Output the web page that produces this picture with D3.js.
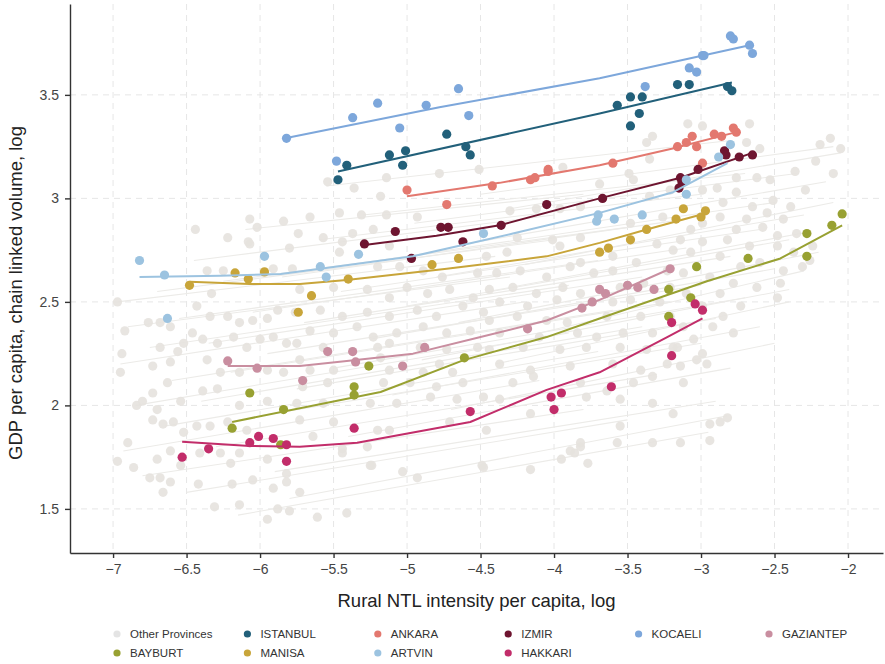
<!DOCTYPE html>
<html lang="en">
<head>
<meta charset="UTF-8">
<script src="https://cdn.jsdelivr.net/npm/d3@7"></script>
<title>NTL vs GDP per capita</title>
<style>
  body { margin: 0; background: #fff; }
  text { font-family: 'Liberation Sans', Arial, sans-serif; fill: #333; }
  .grid line { stroke: #e6e6e6; stroke-width: 1; stroke-dasharray: 6,5; }
  .axis path, .axis line { stroke: #333; stroke-width: 1.4; }
  .axis text { font-size: 14px; fill: #444; }
  .axis_title { font-size: 18.5px; fill: #222; }
  .legend_text { font-size: 11.5px; fill: #333; }
</style>
</head>
<body>
<div id="chart"></div>
<script>
// ---- data ----
var xTicks = [-7, -6.5, -6, -5.5, -5, -4.5, -4, -3.5, -3, -2.5, -2];
var yTicks = [1.5, 2, 2.5, 3, 3.5];

var provinceNames = ["ISTANBUL", "ANKARA", "IZMIR", "KOCAELI", "GAZIANTEP", "BAYBURT", "MANISA", "ARTVIN", "HAKKARI"];
var provinceColors = ["#22607a", "#e3786f", "#6e1530", "#7da7db", "#c98ea0", "#98a132", "#c8a53a", "#9cc3e0", "#c22d6a"];
var legendOrder = ["Other Provinces", "ISTANBUL", "ANKARA", "IZMIR", "KOCAELI", "GAZIANTEP", "BAYBURT", "MANISA", "ARTVIN", "HAKKARI"];

var istanbulPts = [[-5.47,3.09],[-5.41,3.16],[-5.12,3.21],[-5.03,3.16],[-5.01,3.23],[-4.73,3.31],[-4.60,3.25],[-4.57,3.21],
  [-3.57,3.45],[-3.48,3.35],[-3.48,3.49],[-3.42,3.41],[-3.40,3.49],[-3.16,3.55],[-3.08,3.55],[-2.82,3.54],[-2.79,3.52]];
var istanbulFit = [[-5.47,3.13],[-3.69,3.41],[-2.79,3.56]];

var ankaraPts = [[-5.00,3.04],[-4.73,2.97],[-4.42,3.06],[-4.16,3.09],[-4.13,3.10],[-4.04,3.14],[-4.04,3.13],[-3.60,3.17],
  [-3.16,3.25],[-3.10,3.27],[-3.06,3.30],[-3.03,3.25],[-2.91,3.31],[-2.86,3.30],[-2.78,3.34],[-2.76,3.32],[-2.99,3.17]];
var ankaraFit = [[-5.00,3.01],[-4.37,3.075],[-3.69,3.16],[-3.20,3.24],[-2.76,3.32]];

var izmirPts = [[-5.29,2.78],[-5.08,2.84],[-4.97,2.71],[-4.77,2.86],[-4.72,2.86],[-4.62,2.79],[-4.36,2.87],[-4.05,2.97],
  [-3.67,3.00],[-3.14,3.10],[-3.13,3.08],[-3.15,3.05],[-3.02,3.14],[-2.84,3.23],[-2.83,3.21],[-2.74,3.20],[-2.65,3.21]];
var izmirFit = [[-5.29,2.775],[-4.80,2.82],[-4.37,2.87],[-3.69,3.00],[-3.14,3.10],[-2.65,3.22]];

var kocaeliPts = [[-5.82,3.29],[-5.37,3.39],[-5.20,3.46],[-5.05,3.34],[-4.87,3.45],[-4.65,3.53],[-4.58,3.40],[-5.48,3.18],
  [-3.38,3.54],[-2.99,3.69],[-2.98,3.69],[-3.08,3.63],[-3.03,3.61],[-2.80,3.785],[-2.78,3.77],[-2.67,3.74],[-2.65,3.70]];
var kocaeliFit = [[-5.83,3.29],[-4.78,3.44],[-3.69,3.58],[-2.67,3.74]];

var gaziantepPts = [[-6.22,2.215],[-6.02,2.18],[-5.71,2.12],[-5.54,2.26],[-5.37,2.26],[-5.35,2.21],[-5.03,2.19],[-4.88,2.28],
  [-4.18,2.37],[-3.81,2.47],[-3.74,2.50],[-3.69,2.56],[-3.65,2.54],[-3.50,2.58],[-3.43,2.57],[-3.32,2.56],[-3.21,2.66]];
var gaziantepFit = [[-6.22,2.19],[-5.73,2.19],[-5.41,2.215],[-4.96,2.25],[-4.50,2.33],[-4.05,2.41],[-3.69,2.51],[-3.21,2.66]];

var bayburtPts = [[-6.19,1.89],[-6.07,2.06],[-5.86,1.81],[-5.84,1.98],[-5.36,2.09],[-5.36,2.05],[-5.26,2.19],[-4.61,2.23],
  [-3.22,2.56],[-3.22,2.43],[-3.07,2.52],[-3.03,2.67],[-2.68,2.71],[-2.28,2.83],[-2.28,2.72],[-2.11,2.87],[-2.04,2.925]];
var bayburtFit = [[-6.19,1.92],[-5.18,2.065],[-4.61,2.22],[-4.05,2.33],[-3.69,2.42],[-2.96,2.60],[-2.46,2.71],[-2.04,2.87]];

var manisaPts = [[-6.48,2.58],[-6.17,2.64],[-6.08,2.61],[-5.97,2.645],[-5.74,2.45],[-5.65,2.53],[-5.40,2.61],[-4.83,2.68],
  [-4.65,2.71],[-3.69,2.74],[-3.63,2.76],[-3.48,2.80],[-3.37,2.85],[-3.17,2.90],[-3.12,2.95],[-3.00,2.91],[-2.97,2.94]];
var manisaFit = [[-6.48,2.597],[-6.07,2.587],[-5.73,2.587],[-5.41,2.606],[-4.73,2.66],[-4.05,2.72],[-3.69,2.785],[-3.37,2.85],[-3.01,2.92]];

var artvinPts = [[-6.82,2.70],[-6.65,2.63],[-6.63,2.42],[-5.97,2.72],[-5.59,2.67],[-5.55,2.62],[-5.33,2.73],[-4.48,2.83],
  [-3.71,2.89],[-3.70,2.92],[-3.59,2.90],[-3.40,2.92],[-3.10,3.09],[-3.10,3.02],[-2.88,3.20],[-2.80,3.26]];
var artvinFit = [[-6.82,2.62],[-6.27,2.626],[-5.86,2.635],[-5.59,2.66],[-4.96,2.72],[-4.28,2.83],[-3.69,2.93],[-3.19,3.03],[-2.82,3.17]];

var hakkariPts = [[-6.53,1.75],[-6.35,1.79],[-6.07,1.82],[-6.01,1.85],[-5.91,1.84],[-5.82,1.81],[-5.82,1.73],[-5.36,1.89],
  [-4.57,1.97],[-4.02,2.04],[-4.00,1.98],[-3.95,2.06],[-3.61,2.09],[-3.20,2.40],[-3.20,2.24],[-3.04,2.49],[-2.99,2.46]];
var hakkariFit = [[-6.53,1.824],[-6.07,1.804],[-5.73,1.80],[-5.34,1.82],[-4.57,1.92],[-4.05,2.075],[-3.69,2.16],[-3.23,2.33],[-2.99,2.42]];

var provincePts = [istanbulPts, ankaraPts, izmirPts, kocaeliPts, gaziantepPts, bayburtPts, manisaPts, artvinPts, hakkariPts];
var provinceFits = [istanbulFit, ankaraFit, izmirFit, kocaeliFit, gaziantepFit, bayburtFit, manisaFit, artvinFit, hakkariFit];

// other provinces: fitted segments [x0, y0, x1, y1]
var otherLines = [
  [-6.97,2.50,-4.40,2.72],[-6.95,2.20,-4.20,2.50],[-6.93,1.78,-4.10,2.12],[-6.90,2.38,-4.30,2.62],[-6.85,2.00,-3.90,2.35],
  [-6.80,1.66,-3.80,1.98],[-6.75,2.28,-3.90,2.58],[-6.70,2.55,-4.00,2.80],[-6.65,1.90,-3.70,2.26],[-6.60,2.12,-3.60,2.46],
  [-6.55,2.42,-3.70,2.70],[-6.50,1.58,-3.50,1.93],[-6.45,2.70,-4.00,2.92],[-6.40,2.02,-3.40,2.38],[-6.35,2.30,-3.40,2.62],
  [-6.30,1.80,-3.30,2.15],[-6.25,2.60,-3.50,2.86],[-6.20,2.16,-3.20,2.50],[-6.15,1.47,-2.95,1.87],[-6.10,2.85,-3.80,3.02],
  [-6.05,2.45,-3.10,2.76],[-6.00,1.95,-3.00,2.30],[-5.95,2.25,-3.00,2.58],[-5.90,1.68,-2.90,2.02],[-5.85,2.62,-3.10,2.90],
  [-5.80,1.55,-2.82,1.95],[-5.75,2.08,-2.90,2.42],[-5.70,2.40,-2.80,2.72],[-5.60,2.80,-3.00,3.02],[-5.55,3.06,-2.80,3.28],
  [-5.50,2.18,-2.70,2.52],[-5.45,2.55,-2.60,2.85],[-5.40,1.85,-2.80,2.18],[-5.30,2.92,-2.70,3.12],[-5.25,2.32,-2.50,2.66],
  [-5.20,2.70,-2.50,2.98],[-5.10,2.05,-2.60,2.38],[-5.00,2.48,-2.40,2.80],[-4.95,2.88,-2.35,3.12],[-4.90,2.22,-2.40,2.56],
  [-4.80,2.62,-2.30,2.92],[-4.70,1.98,-2.50,2.30],[-4.65,2.40,-2.20,2.74],[-4.60,2.78,-2.15,3.08],[-4.50,3.02,-2.10,3.25],
  [-4.45,2.55,-2.25,2.84],[-4.40,2.20,-2.40,2.50],[-4.30,2.95,-2.05,3.22],[-4.20,2.68,-2.10,2.98],[-4.10,2.35,-2.30,2.65]
];

// other provinces: yearly observations [x, y]
var otherPts = [
  [-6.44,2.85],[-6.22,2.81],[-6.07,2.78],[-6.36,2.65],[-6.25,2.65],[-6.97,2.50],[-6.92,2.36],[-6.76,2.40],[-6.68,2.40],[-6.61,2.38],
  [-6.43,2.48],[-6.34,2.43],[-6.22,2.43],[-6.14,2.40],[-6.05,2.41],[-5.95,2.42],[-5.88,2.46],[-6.94,2.25],[-6.95,2.16],[-6.68,2.28],
  [-6.56,2.26],[-6.52,2.30],[-6.46,2.35],[-6.39,2.32],[-6.29,2.30],[-6.18,2.33],[-6.09,2.28],[-6.00,2.32],[-5.91,2.33],[-5.82,2.30],
  [-6.73,2.19],[-6.61,2.21],[-6.36,2.22],[-6.27,2.16],[-6.14,2.16],[-5.95,2.17],[-5.84,2.16],[-6.63,2.11],[-6.73,2.06],[-6.39,2.07],
  [-6.29,2.08],[-6.54,2.02],[-6.84,2.00],[-6.80,2.02],[-6.70,1.98],[-6.14,2.00],[-5.95,2.02],[-6.73,1.93],[-6.66,1.91],[-6.59,1.92],
  [-6.52,1.87],[-6.43,1.90],[-6.34,1.90],[-6.22,1.92],[-6.09,1.88],[-6.90,1.82],[-6.97,1.73],[-6.86,1.70],[-6.70,1.74],[-6.61,1.78],
  [-6.54,1.71],[-6.41,1.77],[-6.27,1.77],[-6.20,1.72],[-6.14,1.77],[-5.95,1.74],[-6.75,1.65],[-6.68,1.65],[-6.61,1.63],[-6.42,1.62],
  [-6.19,1.62],[-6.05,1.64],[-5.91,1.60],[-5.82,1.67],[-6.66,1.58],[-6.31,1.51],[-6.14,1.52],[-5.95,1.45],[-5.88,1.50],
  [-6.07,2.90],[-5.84,2.89],[-6.02,2.86],[-6.08,2.79],[-5.80,2.76],[-5.91,2.66],[-5.78,2.66],[-6.33,2.54],
  [-5.18,3.01],[-5.66,2.91],[-5.46,2.93],[-5.31,2.92],[-5.14,2.92],[-4.93,2.91],[-5.74,2.83],[-5.57,2.81],[-5.44,2.79],[-5.37,2.83],
  [-5.23,2.85],[-5.12,2.77],[-5.46,2.74],[-5.20,2.67],[-5.05,2.67],[-4.89,2.65],[-4.76,2.62],[-4.52,2.64],[-5.73,2.56],[-5.50,2.57],
  [-5.27,2.56],[-5.12,2.52],[-5.00,2.57],[-4.86,2.54],[-4.71,2.56],[-4.55,2.52],[-5.76,2.45],[-5.59,2.46],[-5.44,2.43],[-5.27,2.45],
  [-5.12,2.43],[-4.93,2.46],[-4.80,2.43],[-4.62,2.48],[-4.48,2.45],[-5.66,2.36],[-5.50,2.35],[-5.34,2.38],[-5.23,2.33],[-5.07,2.35],
  [-4.89,2.38],[-4.73,2.35],[-4.57,2.36],[-5.75,2.30],[-5.57,2.28],[-5.20,2.28],[-5.12,2.30],[-4.91,2.28],[-4.73,2.27],[-4.52,2.28],
  [-5.73,2.22],[-5.18,2.23],[-4.78,2.20],[-5.66,2.17],[-5.50,2.17],[-5.12,2.17],[-4.89,2.16],[-4.69,2.16],[-5.71,2.09],[-5.54,2.11],
  [-5.16,2.11],[-4.98,2.11],[-4.80,2.09],[-4.62,2.11],[-5.75,2.01],[-5.57,2.01],[-5.25,2.01],[-5.07,2.01],[-4.84,2.04],[-4.66,2.03],
  [-4.48,2.04],[-5.73,1.93],[-5.50,1.92],[-5.20,1.88],[-5.12,1.88],[-4.71,1.92],[-5.64,1.85],[-5.44,1.79],[-5.25,1.71],[-5.03,1.68],
  [-4.93,1.65],[-4.48,1.70],[-5.73,1.58],
  [-5.44,1.77],[-5.27,1.80],[-5.24,1.71],[-4.49,1.71],[-4.16,1.69],[-3.95,1.74],[-3.86,1.77],[-3.82,1.80],[-3.77,1.72],
  [-5.41,1.48],[-5.61,1.46],[-5.80,1.49],[-5.82,1.63],
  [-5.54,3.08],[-5.36,3.05],[-5.14,3.10],[-4.78,3.12],[-4.51,3.14],[-3.49,3.12],[-3.35,3.19],[-2.60,3.24],[-2.69,3.27],[-2.05,3.24],
  [-3.37,3.27],[-3.33,3.30],[-3.94,3.15],[-3.69,3.07],[-3.46,3.09],[-4.30,2.94],[-4.12,2.95],[-3.96,2.95],[-3.82,2.96],[-3.35,3.01],
  [-3.21,3.04],[-4.25,2.81],[-4.01,2.80],[-3.82,2.81],[-3.48,2.88],[-3.26,2.91],[-4.46,2.72],[-4.32,2.74],[-3.96,2.77],[-3.82,2.69],
  [-3.60,2.72],[-3.30,2.78],[-3.19,2.75],[-4.39,2.64],[-4.23,2.65],[-4.05,2.62],[-3.89,2.67],[-3.73,2.64],[-3.60,2.65],[-3.44,2.69],
  [-3.23,2.65],[-4.44,2.56],[-4.28,2.57],[-4.12,2.54],[-3.94,2.57],[-3.82,2.54],[-3.55,2.57],[-3.39,2.59],[-3.21,2.57],[-4.37,2.50],
  [-4.18,2.48],[-3.98,2.51],[-3.60,2.50],[-3.48,2.51],[-3.28,2.50],[-4.44,2.41],[-4.25,2.43],[-4.05,2.41],[-3.91,2.40],[-3.64,2.43],
  [-3.41,2.43],[-3.21,2.43],[-4.37,2.35],[-4.10,2.33],[-3.84,2.35],[-3.71,2.33],[-3.53,2.35],[-3.33,2.35],[-4.44,2.27],[-4.21,2.28],
  [-3.96,2.27],[-3.78,2.28],[-3.55,2.28],[-3.37,2.27],[-3.19,2.28],[-4.37,2.20],[-4.16,2.17],[-3.89,2.19],[-3.60,2.20],[-3.41,2.17],
  [-3.23,2.20],[-4.28,2.11],[-4.14,2.14],[-3.82,2.11],[-3.64,2.07],[-3.46,2.11],[-3.33,2.14],[-4.37,2.03],[-4.16,1.96],[-3.78,2.04],
  [-3.55,2.03],[-3.33,2.01],[-3.19,1.96],[-4.46,1.88],[-3.82,1.82],[-3.57,1.82],[-3.33,1.82],[-3.55,1.90],[-3.89,1.78],
  [-3.09,3.36],[-2.99,3.35],[-2.67,3.36],[-2.12,3.29],[-2.19,3.26],[-2.22,3.18],[-2.36,3.13],[-2.29,3.04],[-2.10,3.12],[-2.53,3.09],
  [-2.62,3.10],[-2.76,3.10],[-2.89,3.05],[-2.99,3.04],[-2.76,3.03],[-2.51,2.99],[-2.39,2.96],[-2.55,2.93],[-2.65,2.96],[-2.85,2.98],
  [-2.69,2.90],[-2.44,2.90],[-2.35,2.83],[-2.48,2.82],[-2.58,2.86],[-2.76,2.85],[-2.87,2.91],[-2.99,2.88],[-3.07,2.85],[-3.14,2.80],
  [-2.99,2.79],[-2.82,2.80],[-2.67,2.77],[-2.48,2.77],[-2.37,2.74],[-2.24,2.77],[-2.26,2.70],[-3.07,2.74],[-2.87,2.72],[-2.73,2.67],
  [-2.60,2.69],[-2.44,2.65],[-2.31,2.67],[-3.12,2.64],[-2.94,2.62],[-2.78,2.59],[-2.62,2.57],[-2.46,2.59],[-3.10,2.54],[-2.87,2.54],
  [-2.73,2.48],[-2.48,2.52],[-2.99,2.48],[-2.85,2.43],[-3.12,2.38],[-2.92,2.38],[-2.78,2.35],[-3.05,2.32],[-3.16,2.28],[-2.99,2.25],
  [-3.14,2.19],[-3.03,2.22],[-2.96,2.20],[-3.12,2.11],[-2.82,1.94],[-2.94,1.91],[-2.87,1.92],[-3.14,1.82],[-2.94,1.83]
];

// ---- layout ----
var W = 885, H = 664;
var plot = { left: 70, right: 883, top: 4, bottom: 553 };

var svg = d3.select("#chart").append("svg")
  .attr("width", W)
  .attr("height", H);

var xScale = d3.scaleLinear().domain([-7.293, -1.762]).range([plot.left, plot.right]);
var yScale = d3.scaleLinear().domain([1.287, 3.939]).range([plot.bottom, plot.top]);

function fmt(d) { return String(d).replace("-", "\u2212"); }

// grid
var grid = svg.append("g").attr("class", "grid");
grid.selectAll(".vx").data(xTicks).enter().append("line")
  .attr("x1", d => xScale(d)).attr("x2", d => xScale(d))
  .attr("y1", plot.top).attr("y2", plot.bottom);
grid.selectAll(".hy").data(yTicks).enter().append("line")
  .attr("x1", plot.left).attr("x2", plot.right)
  .attr("y1", d => yScale(d)).attr("y2", d => yScale(d));

// other provinces
svg.append("g").selectAll("line").data(otherLines).enter().append("line")
  .attr("x1", d => xScale(d[0])).attr("y1", d => yScale(d[1]))
  .attr("x2", d => xScale(d[2])).attr("y2", d => yScale(d[3]))
  .style("stroke", "#ecebe8")
  .style("stroke-width", 1.1);

svg.append("g").selectAll("circle").data(otherPts).enter().append("circle")
  .attr("cx", d => xScale(d[0])).attr("cy", d => yScale(d[1]))
  .attr("r", 4.6)
  .style("fill", "#e5e2de")
  .style("opacity", 0.9);

// highlighted provinces
var line = d3.line()
  .x(d => xScale(d[0])).y(d => yScale(d[1]));

provinceNames.forEach(function(name, i) {
  var g = svg.append("g").attr("class", "prov");
  g.append("path")
    .datum(provinceFits[i])
    .attr("d", line)
    .style("fill", "none")
    .style("stroke", provinceColors[i])
    .style("stroke-width", 2)
    .style("stroke-linejoin", "round");
  g.selectAll("circle").data(provincePts[i]).enter().append("circle")
    .attr("cx", d => xScale(d[0])).attr("cy", d => yScale(d[1]))
    .attr("r", 4.6)
    .style("fill", provinceColors[i]);
});

// axes
svg.append("g")
  .attr("class", "axis")
  .attr("transform", "translate(0," + plot.bottom + ")")
  .call(d3.axisBottom(xScale).tickValues(xTicks).tickFormat(fmt).tickSize(5).tickPadding(6).tickSizeOuter(0));

svg.append("g")
  .attr("class", "axis")
  .attr("transform", "translate(" + plot.left + ",0)")
  .call(d3.axisLeft(yScale).tickValues(yTicks).tickFormat(fmt).tickSize(5).tickPadding(6).tickSizeOuter(0));

// axis titles
svg.append("text")
  .attr("class", "axis_title")
  .attr("x", (plot.left + plot.right) / 2)
  .attr("y", 607)
  .style("text-anchor", "middle")
  .text("Rural NTL intensity per capita, log");

svg.append("text")
  .attr("class", "axis_title")
  .attr("transform", "translate(22," + 293 + ") rotate(-90)")
  .style("text-anchor", "middle")
  .text("GDP per capita, chain linked volume, log");

// legend
var legend = svg.append("g");
legendOrder.forEach(function(name, i) {
  var col = i < 6 ? i : i - 6, row = i < 6 ? 0 : 1;
  var k = provinceNames.indexOf(name);
  var lx = 117 + col * 130.4, ly = 634 + row * 19;
  legend.append("circle")
    .attr("cx", lx).attr("cy", ly).attr("r", 3.6)
    .style("fill", k < 0 ? "#e4e4e4" : provinceColors[k]);
  legend.append("text")
    .attr("class", "legend_text")
    .attr("x", lx + 13).attr("y", ly + 4)
    .text(name);
});
</script>
</body>
</html>
